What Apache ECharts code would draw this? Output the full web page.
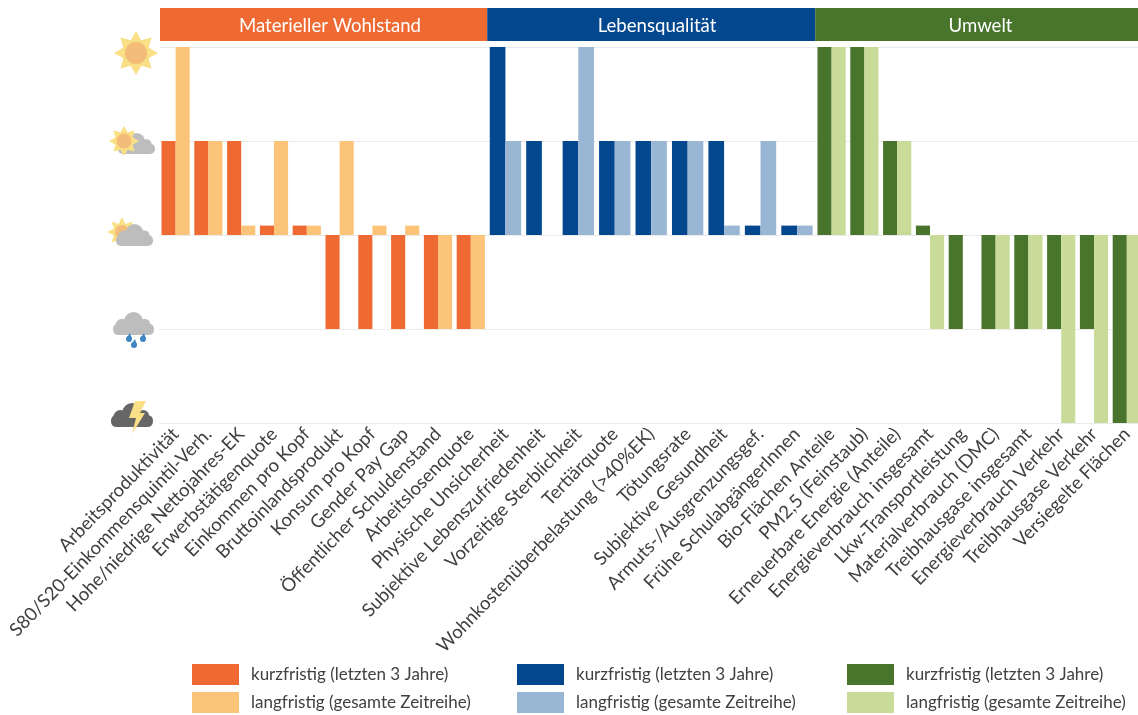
<!DOCTYPE html>
<html>
<head>
<meta charset="utf-8">
<style>
  html, body { margin: 0; padding: 0; background: #fff; overflow: hidden; }
  #chart { width: 1150px; height: 715px; }
</style>
<script src="https://cdn.jsdelivr.net/npm/echarts@6/dist/echarts.min.js"></script>
</head>
<body>
<div id="chart"></div>
<script>
const wohlstandLabels = ["Arbeitsproduktivität", "S80/S20-Einkommensquintil-Verh.", "Hohe/niedrige Nettojahres-EK", "Erwerbstätigenquote", "Einkommen pro Kopf", "Bruttoinlandsprodukt", "Konsum pro Kopf", "Gender Pay Gap", "Öffentlicher Schuldenstand", "Arbeitslosenquote"];
const wohlstandKurz = [1, 1, 1, 0.1, 0.1, -1, -1, -1, -1, -1];
const wohlstandLang = [2, 1, 0.1, 1, 0.1, 1, 0.1, 0.1, -1, -1];

const qualitaetLabels = ["Physische Unsicherheit", "Subjektive Lebenszufriedenheit", "Vorzeitige Sterblichkeit", "Tertiärquote", "Wohnkostenüberbelastung (>40%EK)", "Tötungsrate", "Subjektive Gesundheit", "Armuts-/Ausgrenzungsgef.", "Frühe SchulabgängerInnen"];
const qualitaetKurz = [2, 1, 1, 1, 1, 1, 1, 0.1, 0.1];
const qualitaetLang = [1, null, 2, 1, 1, 1, 0.1, 1, 0.1];

const umweltLabels = ["Bio-Flächen Anteile", "PM2,5 (Feinstaub)", "Erneuerbare Energie (Anteile)", "Energieverbrauch insgesamt", "Lkw-Transportleistung", "Materialverbrauch (DMC)", "Treibhausgase insgesamt", "Energieverbrauch Verkehr", "Treibhausgase Verkehr", "Versiegelte Flächen"];
const umweltKurz = [2, 2, 1, 0.1, -1, -1, -1, -1, -1, -2];
const umweltLang = [2, 2, 1, -1, null, -1, -1, -2, -2, -2];

const kurzName = "kurzfristig (letzten 3 Jahre)";
const langName = "langfristig (gesamte Zeitreihe)";

const textColor = "#404040";
const fontName = "Lato";

const panels = [
  { key: "A", title: "Materieller Wohlstand", labels: wohlstandLabels, kurz: wohlstandKurz, lang: wohlstandLang, left: 159.2, width: 328, titleX: 330, dark: "#EF6A33", light: "#FBC479", legendLeft: 192 },
  { key: "B", title: "Lebensqualität", labels: qualitaetLabels, kurz: qualitaetKurz, lang: qualitaetLang, left: 487.2, width: 328, titleX: 657, dark: "#03488E", light: "#9AB6D5", legendLeft: 517 },
  { key: "C", title: "Umwelt", labels: umweltLabels, kurz: umweltKurz, lang: umweltLang, left: 815.2, width: 328, titleX: 980.5, dark: "#48742C", light: "#C8DB98", legendLeft: 847 },
];

const chart = echarts.init(document.getElementById("chart"), null, { renderer: "canvas" });

// Weather icons next to the y axis
function sun(cx, cy, rDisc, rTip) {
  const pts = [];
  for (let i = 0; i < 16; i++) {
    const r = i % 2 === 0 ? rTip : rDisc * 1.25;
    const a = (i * Math.PI) / 8 - Math.PI / 2;
    pts.push([cx + r * Math.cos(a), cy + r * Math.sin(a)]);
  }
  return [
    { type: "polygon", shape: { points: pts }, style: { fill: "#F9DF85" } },
    { type: "circle", shape: { cx: cx, cy: cy, r: rDisc }, style: { fill: "#F4BC7B" } },
  ];
}

function cloud(x, y, w, h, color) {
  const sx = w / 40;
  const sy = h / 22;
  const c = { fill: color };
  return [
    { type: "rect", shape: { x: x, y: y + 11 * sy, width: w, height: 11 * sy, r: 5 * sy }, style: c },
    { type: "circle", shape: { cx: x + 20 * sx, cy: y + 9 * sy, r: 9 * sy }, style: c },
    { type: "circle", shape: { cx: x + 31 * sx, cy: y + 11.5 * sy, r: 5 * sy }, style: c },
    { type: "circle", shape: { cx: x + 9 * sx, cy: y + 13 * sy, r: 6.5 * sy }, style: c },
  ];
}

function drop(x, y) {
  return [
    { type: "polygon", shape: { points: [[x + 1, y - 5], [x + 2.8, y + 0.5], [x - 2.8, y + 0.5]] }, style: { fill: "#3E85C3" } },
    { type: "circle", shape: { cx: x, cy: y + 1, r: 3 }, style: { fill: "#3E85C3" } },
  ];
}

const icons = [].concat(
  sun(136, 53, 11, 22),
  cloud(118, 133, 37, 21, "#BDBDBD"),
  sun(124, 141, 7.5, 15),
  sun(122, 232, 7, 15),
  cloud(116, 224, 37, 22, "#BDBDBD"),
  cloud(113, 312, 41, 23, "#BDBDBD"),
  drop(129, 338),
  drop(134, 344),
  drop(143, 338),
  cloud(111, 403, 42, 24, "#666666"),
  [{
    type: "polygon",
    shape: { points: [[135, 401], [146, 401], [140, 413], [145, 413], [132, 434], [136, 418], [129, 418]] },
    style: { fill: "#F9DF85" },
  }]
);

// Coloured header bands
const headers = [];
panels.forEach(function (p, i) {
  const x0 = i === 0 ? 160 : p.left;
  headers.push({
    type: "rect",
    shape: { x: x0, y: 8, width: p.left + p.width - x0, height: 33 },
    style: { fill: p.dark },
  });
  headers.push({
    type: "text",
    x: p.titleX,
    y: 26,
    style: { text: p.title, fill: "#fff", font: "18.6px " + fontName, textAlign: "center", textVerticalAlign: "middle" },
  });
});

const grids = [];
const xAxes = [];
const yAxes = [];
const series = [];
const legends = [];

panels.forEach(function (p, i) {
  grids.push({ left: p.left, width: p.width, top: 47, height: 376, containLabel: false, outerBoundsMode: "none" });
  xAxes.push({
    type: "category",
    gridIndex: i,
    data: p.labels,
    position: "bottom",
    axisLine: { show: false, onZero: false },
    axisTick: { show: false },
    axisLabel: { interval: 0, rotate: 46, margin: 8, color: textColor, fontFamily: fontName, fontSize: 18.5 },
  });
  yAxes.push({
    type: "value",
    gridIndex: i,
    min: -2,
    max: 2,
    interval: 1,
    axisLine: { show: false },
    axisTick: { show: false },
    axisLabel: { show: false },
    splitLine: { show: true, lineStyle: { color: "#EBEBEB", width: 1 } },
  });
  series.push({
    name: p.key + kurzName,
    type: "bar",
    xAxisIndex: i,
    yAxisIndex: i,
    data: p.kurz,
    barGap: 0,
    barCategoryGap: "14%",
    itemStyle: { color: p.dark },
  });
  series.push({
    name: p.key + langName,
    type: "bar",
    xAxisIndex: i,
    yAxisIndex: i,
    data: p.lang,
    barGap: 0,
    barCategoryGap: "14%",
    itemStyle: { color: p.light },
  });
  legends.push({
    orient: "vertical",
    left: p.legendLeft,
    top: 664,
    padding: 0,
    itemWidth: 47,
    itemHeight: 21,
    itemGap: 7,
    icon: "rect",
    selectedMode: false,
    data: [p.key + kurzName, p.key + langName],
    formatter: function (name) {
      return name.slice(1);
    },
    textStyle: { color: textColor, fontFamily: fontName, fontSize: 17, padding: [6, 0, 0, 7] },
  });
});

const option = {
  animation: false,
  backgroundColor: "#fff",
  grid: grids,
  xAxis: xAxes,
  yAxis: yAxes,
  series: series,
  legend: legends,
  graphic: { elements: [{ type: "group", children: icons.concat(headers) }] },
};

chart.setOption(option);

window.onresize = function () {
  chart.resize();
};
</script>
</body>
</html>
